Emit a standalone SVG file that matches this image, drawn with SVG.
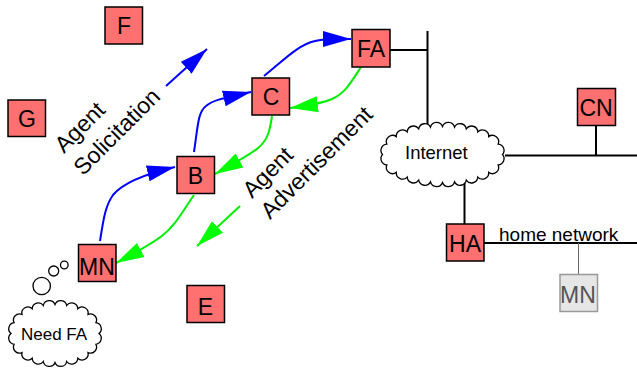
<svg xmlns="http://www.w3.org/2000/svg" width="637" height="370" viewBox="0 0 637 370">
<style>
text{font-family:"Liberation Sans",Arial,sans-serif;fill:#000}
.box{fill:#ff7070;stroke:#000;stroke-width:1.5}
.lab{font-size:23px;text-anchor:middle}
.net{fill:none;stroke:#000;stroke-width:2}
.cloud{fill:#fff;stroke:#000;stroke-width:1.3}
.blue{fill:none;stroke:#00f;stroke-width:2;marker-end:url(#ab)}
.green{fill:none;stroke:#0e0;stroke-width:2;marker-end:url(#ag)}
.rot{font-size:23px}
</style>
<defs>
<marker id="ab" markerUnits="userSpaceOnUse" markerWidth="30" markerHeight="18" refX="28" refY="9" orient="auto"><path d="M0,1 L28,9 L0,17 Z" fill="#00f"/></marker>
<marker id="ag" markerUnits="userSpaceOnUse" markerWidth="30" markerHeight="18" refX="28" refY="9" orient="auto"><path d="M0,1 L28,9 L0,17 Z" fill="#0f0"/></marker>
</defs>
<rect width="637" height="370" fill="#fff"/>
<g id="connectors">
<path class="net" d="M390,50H427.500M427.500,31V127M505,155.500H637M596,125V155.500M464.500,180V224M484,243H637"/>
<path d="M578.500,243V274" fill="none" stroke="#666" stroke-width="1"/>
<path class="blue" d="M100,241 C104,215 106,205 113,195 C122,184 145,174 175,167"/>
<path class="blue" d="M194,152 C198,125 198,112 206,106 C214,99 230,97 251,92"/>
<path class="blue" d="M264,76 C285,59 298,45 315,41 C325,38 335,39 351,39"/>
<path class="blue" d="M166,86 L207,49"/>
<path class="green" d="M361,67 C350,84 345,93 332,99 C320,104 305,106 290,108"/>
<path class="green" d="M272,116 C270,130 268,140 258,148 C250,155 235,163 215,174"/>
<path class="green" d="M194,195 C182,212 175,226 163,235 C152,244 135,253 116,263"/>
<path class="green" d="M240,206 L197,246"/>
</g>
<g id="node-F"><rect class="box" x="105" y="7" width="37.500" height="37"/><text class="lab" x="124" y="33.500">F</text></g>
<g id="node-G"><rect class="box" x="8" y="100" width="37.500" height="36.500"/><text class="lab" x="27" y="126.500">G</text></g>
<g id="node-B"><rect class="box" x="177" y="156.500" width="37.500" height="37"/><text class="lab" x="195.500" y="183.500">B</text></g>
<g id="node-C"><rect class="box" x="252" y="78" width="37.500" height="37"/><text class="lab" x="271" y="104.500">C</text></g>
<g id="node-FA"><rect class="box" x="352" y="29.500" width="38" height="37.500"/><text class="lab" x="371" y="56.500">FA</text></g>
<g id="node-MN"><rect class="box" x="78.500" y="244.500" width="37.500" height="37"/><text class="lab" x="97" y="274.500">MN</text></g>
<g id="node-E"><rect class="box" x="187" y="285.500" width="37.500" height="37"/><text class="lab" x="205.500" y="314.500">E</text></g>
<g id="node-CN"><rect class="box" x="577.500" y="88.500" width="38" height="37"/><text class="lab" x="596" y="115.500">CN</text></g>
<g id="node-HA"><rect class="box" x="446.500" y="224" width="37.500" height="37"/><text class="lab" x="465" y="251.500">HA</text></g>
<g id="node-MN-home"><rect x="560" y="274.500" width="37.500" height="37" fill="#e6e6e6" stroke="#999" stroke-width="1.500"/><text class="lab" x="578" y="302.500" style="fill:#555">MN</text></g>
<g id="internet"><path class="cloud" d="M502.500,154.500 A6.300,6.300 0 0 1 498.200,164.900 A6.300,6.300 0 0 1 488.700,172.400 A6.300,6.300 0 0 1 477.800,177.100 A6.300,6.300 0 0 1 466.300,180.200 A6.300,6.300 0 0 1 454.500,181.900 A6.300,6.300 0 0 1 442.500,182.500 A6.300,6.300 0 0 1 430.500,181.900 A6.300,6.300 0 0 1 418.700,180.200 A6.300,6.300 0 0 1 407.200,177.100 A6.300,6.300 0 0 1 396.300,172.400 A6.300,6.300 0 0 1 386.800,164.900 A6.300,6.300 0 0 1 382.500,154.500 A6.300,6.300 0 0 1 386.800,144.100 A6.300,6.300 0 0 1 396.300,136.600 A6.300,6.300 0 0 1 407.200,131.900 A6.300,6.300 0 0 1 418.700,128.800 A6.300,6.300 0 0 1 430.500,127.100 A6.300,6.300 0 0 1 442.500,126.500 A6.300,6.300 0 0 1 454.500,127.100 A6.300,6.300 0 0 1 466.300,128.800 A6.300,6.300 0 0 1 477.800,131.900 A6.300,6.300 0 0 1 488.700,136.600 A6.300,6.300 0 0 1 498.200,144.100 A6.300,6.300 0 0 1 502.500,154.500 Z"/><text x="405" y="159" font-size="18.500px">Internet</text></g>
<g id="thought"><circle class="cloud" cx="41.700" cy="286" r="8.700"/><circle class="cloud" cx="53.700" cy="271" r="5"/><circle class="cloud" cx="64.300" cy="265" r="3.800"/>
<path class="cloud" d="M99,333.500 A6.100,6.100 0 0 1 95.900,344.300 A6.100,6.100 0 0 1 88,352.600 A6.100,6.100 0 0 1 77.800,358.300 A6.100,6.100 0 0 1 66.700,361.500 A6.100,6.100 0 0 1 55,362.500 A6.100,6.100 0 0 1 43.300,361.500 A6.100,6.100 0 0 1 32.200,358.300 A6.100,6.100 0 0 1 22,352.600 A6.100,6.100 0 0 1 14.100,344.300 A6.100,6.100 0 0 1 11,333.500 A6.100,6.100 0 0 1 14.100,322.700 A6.100,6.100 0 0 1 22,314.400 A6.100,6.100 0 0 1 32.200,308.700 A6.100,6.100 0 0 1 43.300,305.500 A6.100,6.100 0 0 1 55,304.500 A6.100,6.100 0 0 1 66.700,305.500 A6.100,6.100 0 0 1 77.800,308.700 A6.100,6.100 0 0 1 88,314.400 A6.100,6.100 0 0 1 95.900,322.700 A6.100,6.100 0 0 1 99,333.500 Z"/><text x="21" y="340" font-size="17px">Need FA</text></g>
<text x="499" y="241" font-size="19px">home network</text>
<text class="rot" transform="translate(64,154) rotate(-45)">Agent</text>
<text class="rot" transform="translate(83,176.500) rotate(-45)">Solicitation</text>
<text class="rot" transform="translate(252,199) rotate(-45)">Agent</text>
<text class="rot" transform="translate(270,220) rotate(-45)">Advertisement</text>
</svg>
